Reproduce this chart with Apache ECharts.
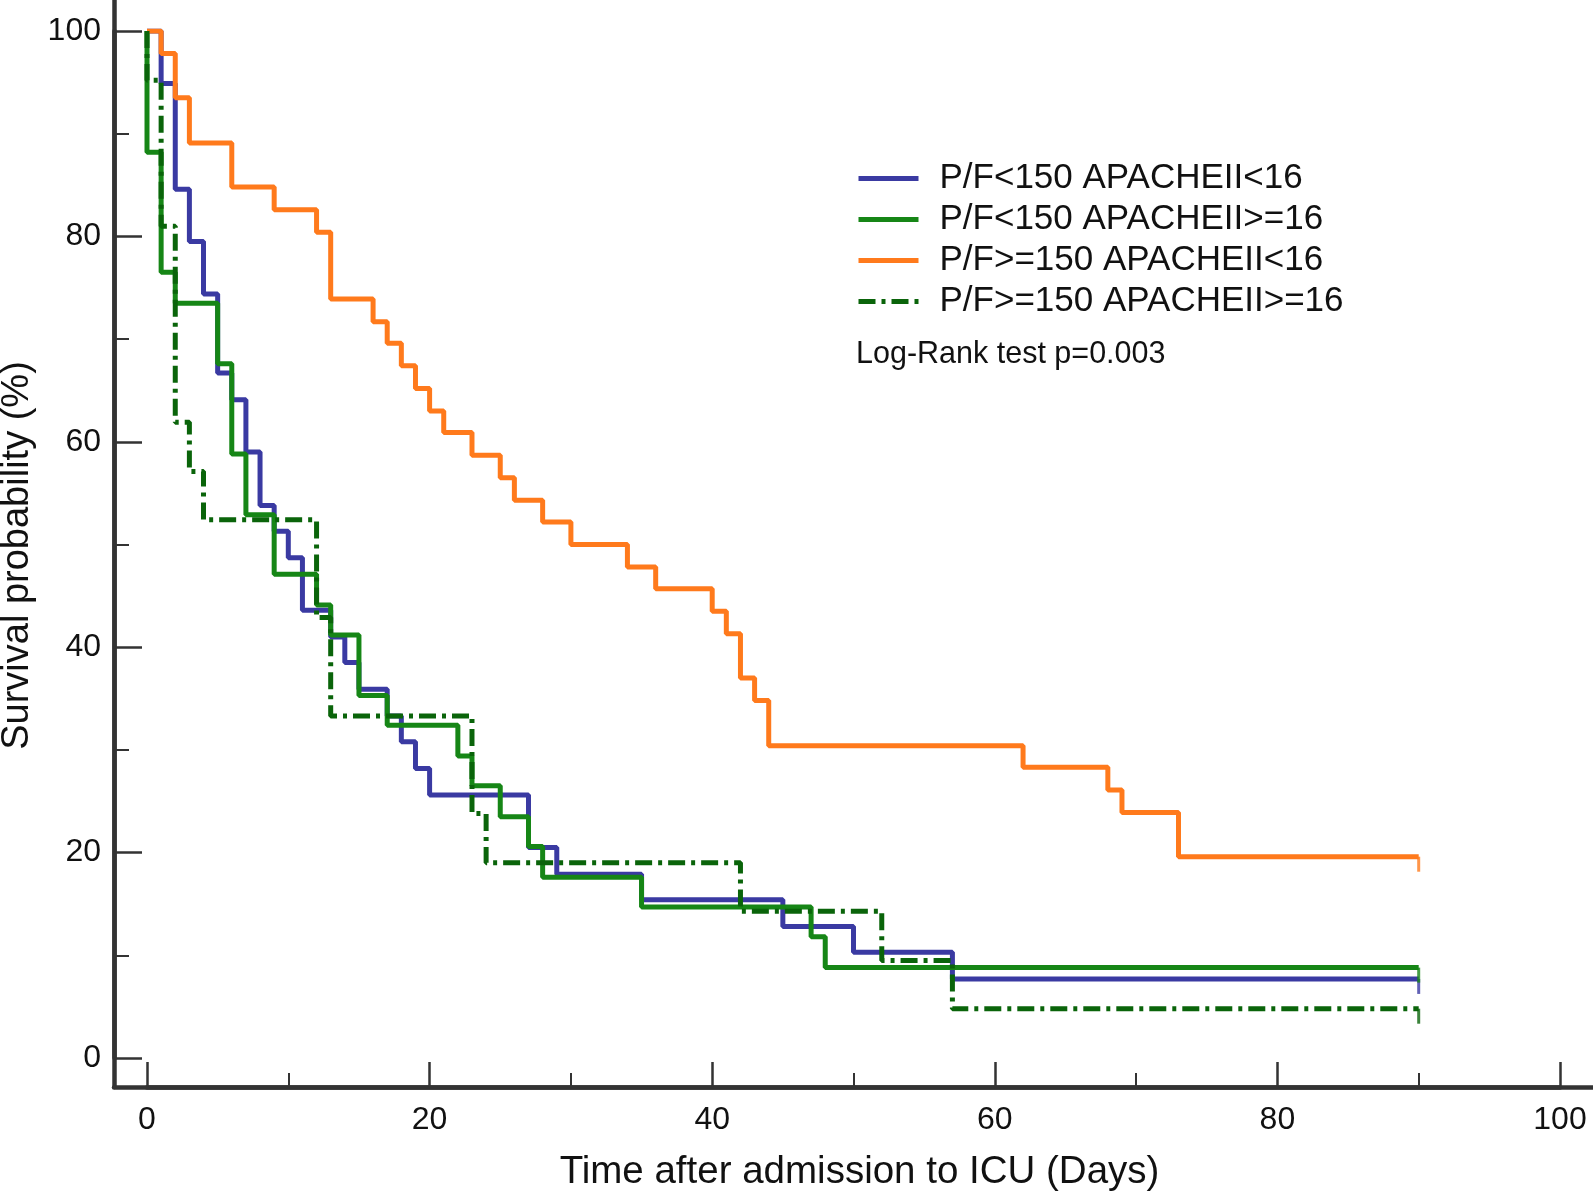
<!DOCTYPE html>
<html>
<head>
<meta charset="utf-8">
<script src="https://cdn.jsdelivr.net/npm/echarts@6/dist/echarts.min.js"></script>
<style>
html, body { margin: 0; padding: 0; background: #fff; }
#chart { width: 1593px; height: 1192px; }
</style>
</head>
<body>
<div id="chart"></div>
<script>
// survival curves, days vs %
var names = ['P/F<150 APACHEII<16', 'P/F<150 APACHEII>=16', 'P/F>=150 APACHEII<16', 'P/F>=150 APACHEII>=16']

var blueDays = [0, 1, 2, 3, 4, 5, 6, 7, 8, 9, 10, 11, 13, 14, 15, 17, 18, 19, 20, 27, 29, 35, 45, 50, 57, 90]
var blueSurv = [100, 94.9, 84.6, 79.5, 74.4, 66.7, 64.1, 59.0, 53.8, 51.3, 48.7, 43.6, 41.0, 38.5, 35.9, 33.3, 30.8, 28.2, 25.6, 20.5, 17.9, 15.4, 12.8, 10.3, 7.7, 7.7]

var greenDays = [0, 0, 1, 2, 5, 6, 7, 9, 12, 13, 15, 17, 22, 23, 25, 27, 28, 35, 47, 48, 90]
var greenSurv = [100, 88.2, 76.5, 73.5, 67.6, 58.8, 52.9, 47.1, 44.1, 41.2, 35.3, 32.4, 29.4, 26.5, 23.5, 20.6, 17.6, 14.7, 11.8, 8.8, 8.8]

var orangeDays = [0, 1, 2, 3, 6, 9, 12, 13, 16, 17, 18, 19, 20, 21, 23, 25, 26, 28, 30, 34, 36, 40, 41, 42, 43, 44, 62, 68, 69, 73, 90]
var orangeSurv = [100, 97.8, 93.5, 89.1, 84.8, 82.6, 80.4, 73.9, 71.7, 69.6, 67.4, 65.2, 63.0, 60.9, 58.7, 56.5, 54.3, 52.2, 50.0, 47.8, 45.7, 43.5, 41.3, 37.0, 34.8, 30.4, 28.3, 26.1, 23.9, 19.6, 19.6]

var dashDays = [0, 0, 1, 2, 3, 4, 12, 13, 23, 24, 42, 52, 57, 90]
var dashSurv = [100, 95.2, 81.0, 61.9, 57.1, 52.4, 42.9, 33.3, 23.8, 19.0, 14.3, 9.5, 4.8, 4.8]

var censorDays = [90, 90, 90, 90]
var xTicks = [0, 20, 40, 60, 80, 100]
var yTicks = [0, 20, 40, 60, 80, 100]

var colors = ['#3a3aa2', '#168616', '#ff7a1c', '#0a640a']
var FONT = '"Liberation Sans", Arial, sans-serif'
var AXIS = '#333'

var curves = [[blueDays, blueSurv], [greenDays, greenSurv], [orangeDays, orangeSurv], [dashDays, dashSurv]]

var series = []
curves.forEach(function (c, i) {
    var pts = c[0].map(function (d, k) { return [d, c[1][k]] })
    series.push({
        name: names[i],
        type: 'line',
        step: 'end',
        symbol: 'none',
        showSymbol: false,
        xAxisIndex: 0, yAxisIndex: 0,
        data: pts,
        z: 2 + i,
        lineStyle: { color: colors[i], width: 5, type: i == 3 ? [17, 6, 4, 6] : 'solid', cap: 'butt' },
        itemStyle: { color: colors[i] }
    })
})
// end-of-followup ticks
curves.forEach(function (c, i) {
    series.push({
        type: 'scatter',
        silent: true,
        xAxisIndex: 0, yAxisIndex: 0,
        symbol: 'rect',
        symbolSize: [3, 15],
        symbolOffset: [0, 7.5],
        z: 2 + i,
        itemStyle: { color: colors[i] },
        data: [[censorDays[i], c[1][c[1].length - 1]]]
    })
})

var option = {
    animation: false,
    backgroundColor: '#fff',
    textStyle: { fontFamily: FONT },
    grid: [
        { left: 147, right: 33, top: 31, bottom: 134, outerBoundsMode: 'none' },
        { left: 114, right: 0, top: 0, bottom: 105, outerBoundsMode: 'none' }
    ],
    xAxis: [{
        gridIndex: 0,
        type: 'value', min: 0, max: 100, interval: 20,
        offset: 29,
        name: 'Time after admission to ICU (Days)',
        nameLocation: 'middle',
        nameGap: 66,
        nameTextStyle: { fontSize: 38.5, color: '#111', fontFamily: FONT, padding: [0, 0, 0, 12] },
        axisLine: { show: true, onZero: false, lineStyle: { color: AXIS, width: 4.5 } },
        axisTick: { show: true, inside: true, length: 25, lineStyle: { color: AXIS, width: 2.5 } },
        minorTick: { show: true, splitNumber: 2, length: 14, lineStyle: { color: AXIS, width: 2 } },
        axisLabel: { fontSize: 32, color: '#111', margin: 17, fontFamily: FONT,
            formatter: function (v) { return xTicks.indexOf(v) >= 0 ? String(v) : '' } },
        splitLine: { show: false }
    }, {
        gridIndex: 1, type: 'value', min: 0, max: 1,
        axisLine: { show: true, onZero: false, lineStyle: { color: AXIS, width: 4.5 } },
        axisTick: { show: false }, axisLabel: { show: false }, splitLine: { show: false }
    }],
    yAxis: [{
        gridIndex: 0,
        type: 'value', min: 0, max: 100, interval: 20,
        offset: 33,
        name: 'Survival probability (%)',
        nameLocation: 'middle',
        nameGap: 77,
        nameTextStyle: { fontSize: 38, color: '#111', fontFamily: FONT, padding: [0, 22, 0, 0] },
        axisLine: { show: true, onZero: false, lineStyle: { color: AXIS, width: 4.5 } },
        axisTick: { show: true, inside: true, length: 28, lineStyle: { color: AXIS, width: 2.5 } },
        minorTick: { show: true, splitNumber: 2, length: 15, lineStyle: { color: AXIS, width: 2 } },
        axisLabel: { fontSize: 32, color: '#111', margin: 13, fontFamily: FONT,
            formatter: function (v) { return yTicks.indexOf(v) >= 0 ? String(v) : '' } },
        splitLine: { show: false }
    }, {
        gridIndex: 1, type: 'value', min: 0, max: 1,
        axisLine: { show: true, onZero: false, lineStyle: { color: AXIS, width: 4.5 } },
        axisTick: { show: false }, axisLabel: { show: false }, splitLine: { show: false }
    }],
    legend: {
        data: names,
        orient: 'vertical',
        left: 851,
        top: 156,
        itemWidth: 60,
        itemHeight: 14,
        itemGap: 6,
        selectedMode: false,
        itemStyle: { opacity: 0 },
        lineStyle: { width: 5 },
        textStyle: { fontSize: 35, color: '#111', fontFamily: FONT, lineHeight: 34, padding: [0, 0, 0, 16] }
    },
    graphic: [{
        type: 'text',
        left: 856,
        top: 339,
        style: { text: 'Log-Rank test p=0.003', font: '30.5px ' + FONT, fill: '#111' }
    }],
    series: series
}

var chart = echarts.init(document.getElementById('chart'))
chart.setOption(option)
</script>
</body>
</html>
